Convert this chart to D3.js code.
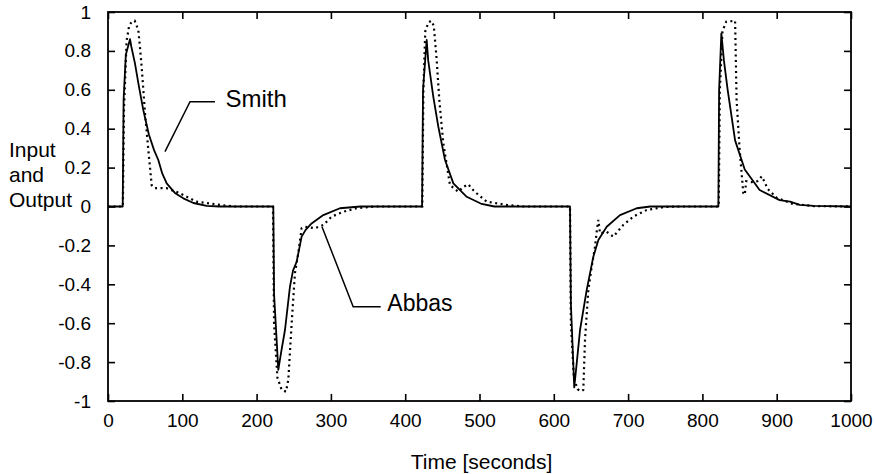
<!DOCTYPE html>
<html>
<head>
<meta charset="utf-8">
<script src="https://cdn.jsdelivr.net/npm/d3@7"></script>
<style>
  body { margin: 0; background: #fff; }
  svg { display: block; font-family: "Liberation Sans", Arial, sans-serif; }
</style>
</head>
<body>
<script>
// tick values
const xTicks = [0, 100, 200, 300, 400, 500, 600, 700, 800, 900, 1000];
const yTicks = [-1, -0.8, -0.6, -0.4, -0.2, 0, 0.2, 0.4, 0.6, 0.8, 1];

// Smith predictor response (solid) [time, value]
const smith = [
  [0, 0], [19.8, 0], [21, 0.55], [24, 0.78], [29.6, 0.86], [31.5, 0.82], [36.3, 0.736],
  [41, 0.63], [47.5, 0.496], [55, 0.37], [62, 0.29], [67.7, 0.239], [73, 0.17], [79, 0.119],
  [90, 0.07], [101.4, 0.042], [115, 0.018], [132.8, 0.003], [150, 0],
  [222.5, 0], [223.5, -0.45], [229.2, -0.84], [233, -0.75], [238.2, -0.635], [244.9, -0.412],
  [249, -0.33], [253.9, -0.284], [260.6, -0.155], [266, -0.12], [274, -0.087], [289.8, -0.044],
  [312.2, -0.009], [340, 0],
  [422.7, 0], [424, 0.6], [428.9, 0.856], [431, 0.75], [437.8, 0.565], [444.6, 0.41],
  [453.6, 0.239], [464.8, 0.119], [482.8, 0.05], [503, 0.013], [520, 0],
  [621.8, 0], [623, -0.5], [627.5, -0.93], [631, -0.8], [635.3, -0.635], [644.3, -0.429],
  [653.2, -0.258], [660, -0.172], [671.2, -0.104], [689.1, -0.044], [711.6, -0.009], [730, 0],
  [821.5, 0], [822.5, 0.6], [825.5, 0.89], [829, 0.75], [834, 0.6], [844, 0.34], [857, 0.19],
  [877, 0.085], [904, 0.033], [918, 0.025], [931, 0.008], [950, 0.003], [1000, 0]
];

// Abbas response (dotted) [time, value]
const abbas = [
  [0, 0], [20, 0], [21.5, 0.5], [25, 0.85], [28.5, 0.93], [32, 0.95], [36, 0.955], [40.8, 0.907],
  [43, 0.82], [45.3, 0.719], [49.8, 0.48], [54.3, 0.29], [58.8, 0.11], [63.3, 0.094], [79, 0.094],
  [96.9, 0.068], [119, 0.025], [150.7, 0.008], [170, 0],
  [222, 0], [223.5, -0.6], [228, -0.88], [233.8, -0.943], [239.6, -0.952], [242.7, -0.89],
  [247.2, -0.6], [251.6, -0.343], [256.1, -0.24], [260.6, -0.112], [265.1, -0.104], [278.6, -0.112],
  [289.8, -0.095], [301, -0.052], [316.7, -0.027], [334.7, -0.009], [360, 0],
  [423, 0], [424.5, 0.6], [427, 0.9], [431, 0.945], [435, 0.955], [438.5, 0.93], [442.4, 0.753],
  [445.9, 0.548], [451.3, 0.325], [460.3, 0.11], [471.5, 0.076], [478, 0.1], [485, 0.114],
  [490, 0.09], [496.2, 0.068], [509.7, 0.025], [536.6, 0.008], [560, 0],
  [621.8, 0], [623, -0.6], [627, -0.88], [632, -0.94], [637, -0.95], [639.7, -0.943], [642, -0.686],
  [646.5, -0.429], [651, -0.31], [655.5, -0.207], [658, -0.12], [660, -0.069], [662.2, -0.138],
  [671.2, -0.13], [680.1, -0.155], [693.5, -0.095], [707, -0.052], [725, -0.018], [750, -0.002], [770, 0],
  [822, 0], [823.5, 0.6], [827, 0.9], [832, 0.95], [844, 0.955], [846, 0.55], [850, 0.3],
  [855, 0.07], [857, 0.06], [859, 0.13], [866, 0.125], [874, 0.13], [880, 0.155], [888, 0.09],
  [900, 0.045], [920, 0.015], [950, 0.002], [1000, 0]
];

// annotation leaders, in data units
const smithLeader = [[76.7, 0.282], [110.4, 0.539], [144, 0.539]];
const abbasLeader = [[288, -0.104], [330, -0.515], [367, -0.515]];

const margin = { top: 12, right: 24, bottom: 73, left: 108 };
const W = 875, H = 474;
const width = W - margin.left - margin.right;
const height = H - margin.top - margin.bottom;

const svg = d3.select('body').append('svg')
  .attr('width', W)
  .attr('height', H);

const g = svg.append('g')
  .attr('transform', 'translate(' + margin.left + ',' + margin.top + ')');

const x = d3.scaleLinear().domain([0, 1000]).range([0, width]);
const y = d3.scaleLinear().domain([-1, 1]).range([height, 0]);

// axes with inward ticks on all four sides
const fs = '19px';
const axBottom = g.append('g')
  .attr('transform', 'translate(0,' + height + ')')
  .call(d3.axisBottom(x).tickValues(xTicks).tickSize(-7).tickPadding(13).tickFormat(d3.format('d')));
const axTop = g.append('g')
  .call(d3.axisTop(x).tickValues(xTicks).tickSize(-7).tickFormat(''));
const axLeft = g.append('g')
  .call(d3.axisLeft(y).tickValues(yTicks).tickSize(-7).tickPadding(17).tickFormat(d => String(+d.toFixed(1))));
const axRight = g.append('g')
  .attr('transform', 'translate(' + width + ',0)')
  .call(d3.axisRight(y).tickValues(yTicks).tickSize(-7).tickFormat(''));

[axBottom, axTop, axLeft, axRight].forEach(a => {
  a.select('.domain').remove();
  a.selectAll('.tick line').attr('stroke', '#000').attr('stroke-width', 1.6);
  a.selectAll('text').attr('font-size', fs).attr('fill', '#000')
    .attr('font-family', '"Liberation Sans", Arial, sans-serif');
});

// frame
g.append('rect')
  .attr('x', 0).attr('y', 0)
  .attr('width', width).attr('height', height)
  .attr('fill', 'none')
  .attr('stroke', '#000')
  .attr('stroke-width', 1.8);

const line = d3.line()
  .x(d => x(d[0]))
  .y(d => y(d[1]));

g.append('path')
  .datum(abbas)
  .attr('d', line)
  .attr('fill', 'none')
  .attr('stroke', '#000')
  .attr('stroke-width', 2.2)
  .attr('stroke-dasharray', '2,3.5');

g.append('path')
  .datum(smith)
  .attr('d', line)
  .attr('fill', 'none')
  .attr('stroke', '#000')
  .attr('stroke-width', 1.8)
  .attr('stroke-linejoin', 'round');

// annotations
[smithLeader, abbasLeader].forEach(pts => {
  g.append('path')
    .datum(pts)
    .attr('d', line)
    .attr('fill', 'none')
    .attr('stroke', '#000')
    .attr('stroke-width', 1.5);
});

g.append('text')
  .attr('x', x(158))
  .attr('y', y(0.51))
  .attr('font-size', '24px')
  .text('Smith');

g.append('text')
  .attr('x', x(376))
  .attr('y', y(-0.535))
  .attr('font-size', '23px')
  .text('Abbas');

// axis titles
svg.append('text')
  .attr('x', margin.left + width / 2 + 2)
  .attr('y', 469)
  .attr('text-anchor', 'middle')
  .attr('font-size', '21px')
  .text('Time [seconds]');

const ylab = svg.append('text')
  .attr('font-size', '21px');
['Input', 'and', 'Output'].forEach((t, i) => {
  ylab.append('tspan')
    .attr('x', 9)
    .attr('y', 157 + i * 25)
    .text(t);
});
</script>
</body>
</html>
